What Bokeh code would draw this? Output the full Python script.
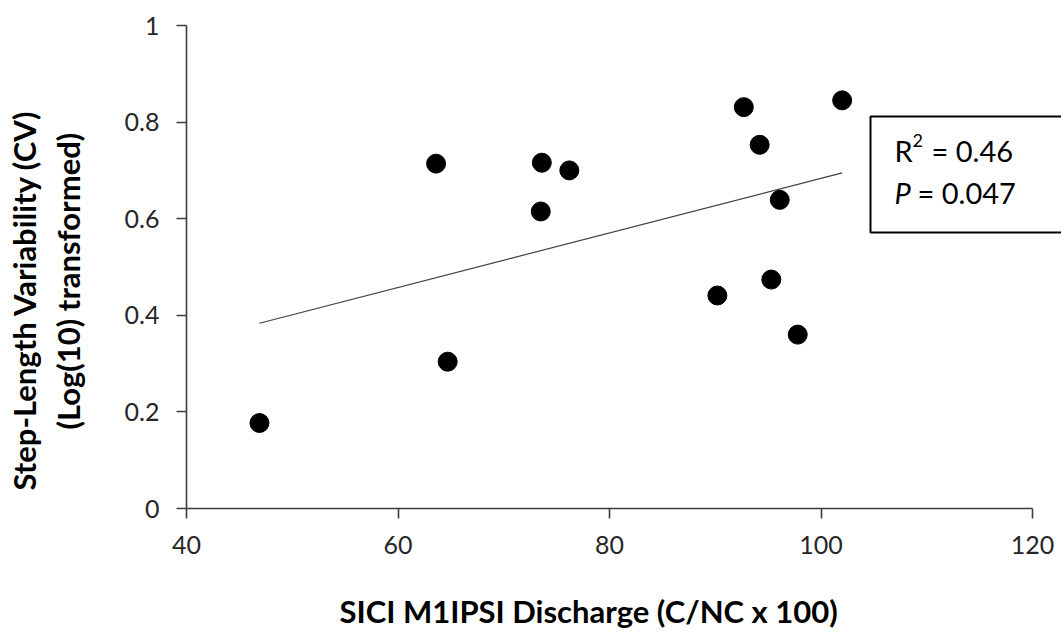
import numpy as np
from bokeh.plotting import figure
from bokeh.models import Range1d, FixedTicker, Label, Title
from bokeh.embed import file_html
from bokeh.resources import INLINE

# ---- data ----
sici = [46.9, 63.6, 64.7, 73.6, 73.5, 76.2, 90.2, 92.7, 94.2, 96.1, 95.3, 97.8, 102.0]
cv = [0.177, 0.714, 0.304, 0.716, 0.615, 0.700, 0.441, 0.831, 0.753, 0.639, 0.474, 0.360, 0.845]
x_ticks = [40, 60, 80, 100, 120]
y_ticks = [0, 0.2, 0.4, 0.6, 0.8, 1]
y_tick_labels = ["0", "0.2", "0.4", "0.6", "0.8", "1"]
r_label = "R"
r_sup = "2"
r2_text = "= 0.46"
p_label = "P"
p_text = "= 0.047"
y_title_1 = "Step-Length Variability (CV)"
y_title_2 = "(Log(10) transformed)"
x_title = "SICI M1IPSI Discharge (C/NC x 100)"

FONT = "Lato"
W, H = 1061, 635
L, R, T, B = 186, 0, 25, 127
px_per_x = (1032 - 186) / 80.0
x_end = 40 + (W - L - R) / px_per_x

def dx(px):
    return 40 + (px - L) / px_per_x

def dy(py):
    return (508 - py) / 483.0

p = figure(width=W, height=H, output_backend="svg", toolbar_location=None,
           x_range=Range1d(40, x_end), y_range=Range1d(0, 1),
           min_border_left=L, min_border_right=R, min_border_top=T, min_border_bottom=B)
p.outline_line_color = None
p.grid.visible = False
p.background_fill_color = "white"
p.border_fill_color = "white"

for ax in (p.xaxis[0], p.yaxis[0]):
    ax.axis_line_color = "#3c3c3c"
    ax.axis_line_width = 1.6
    ax.major_tick_line_color = "#3c3c3c"
    ax.major_tick_line_width = 1.6
    ax.major_tick_in = 0
    ax.major_tick_out = 10
    ax.minor_tick_line_color = None
    ax.major_label_text_font = FONT
    ax.major_label_text_font_size = "25px"
    ax.major_label_text_color = "#262626"
    # blank spacer label, only used to reserve room before the titles
    ax.axis_label = " "
    ax.axis_label_text_font_size = "10px"

p.xaxis.ticker = FixedTicker(ticks=x_ticks)
p.xaxis.bounds = (40, 120)
p.xaxis.major_label_standoff = 17
p.xaxis.axis_label_standoff = 13
p.yaxis.ticker = FixedTicker(ticks=y_ticks)
p.yaxis.major_label_overrides = {t: s for t, s in zip(y_ticks, y_tick_labels)}
p.yaxis.major_label_standoff = 17
p.yaxis.axis_label_standoff = 20


def side_title(text, offset, standoff, size="31px"):
    return Title(text=text, align="left", offset=offset, standoff=standoff,
                 text_font=FONT, text_font_size=size, text_font_style="bold",
                 text_color="black")

# y title: two lines (inner line first)
p.add_layout(side_title(y_title_2, 79, 2), "left")
p.add_layout(side_title(y_title_1, 18, 5), "left")
# x title
p.add_layout(side_title(x_title, 153, 12), "below")

# trend line from least-squares fit of the data
slope, intercept = np.polyfit(sici, cv, 1)
xs = [min(sici), max(sici)]
p.line(xs, [slope * v + intercept for v in xs], line_color="#404040", line_width=1.2)

p.scatter(sici, cv, size=19, fill_color="black", line_color="black")

# stats box
p.quad(left=[dx(870)], right=[dx(1100)], top=[dy(116)], bottom=[dy(232)],
       fill_color="white", line_color="black", line_width=2)
p.add_layout(Label(x=dx(894), y=dy(150), text=r_label, text_font=FONT, text_font_size="29px",
                   text_baseline="middle", text_align="left", text_color="black"))
p.add_layout(Label(x=dx(912), y=dy(140), text=r_sup, text_font=FONT, text_font_size="18px",
                   text_baseline="middle", text_align="left", text_color="black"))
p.add_layout(Label(x=dx(931), y=dy(150), text=r2_text, text_font=FONT, text_font_size="29px",
                   text_baseline="middle", text_align="left", text_color="black"))
p.add_layout(Label(x=dx(894), y=dy(192), text=p_label, text_font=FONT, text_font_size="29px",
                   text_font_style="italic", text_baseline="middle", text_align="left", text_color="black"))
p.add_layout(Label(x=dx(917), y=dy(192), text=p_text, text_font=FONT, text_font_size="29px",
                   text_baseline="middle", text_align="left", text_color="black"))

open("out.html", "w").write(file_html(p, INLINE))
